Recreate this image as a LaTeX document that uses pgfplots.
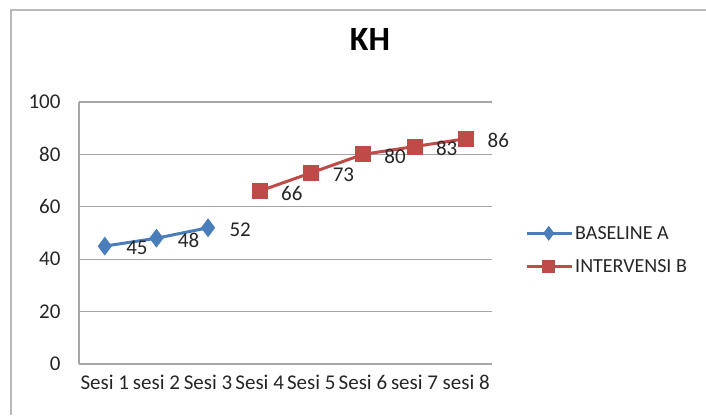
\documentclass[border=0pt]{standalone}
\usepackage{pgfplots}
\pgfplotsset{compat=1.18}
\usepackage{fontspec}
\setmainfont{Carlito}
\definecolor{serA}{HTML}{4A7EBB}
\definecolor{serB}{HTML}{BE4B48}
\definecolor{gridc}{HTML}{A6A6A6}
\definecolor{txt}{HTML}{262626}
\begin{document}
\begin{tikzpicture}[x=1pt,y=1pt]
\path[use as bounding box] (0,0) rectangle (706,415);
\draw[gray!55, line width=1.5pt] (11,0) -- (11,405) -- (706,405);
\node[font=\fontsize{34}{40}\selectfont\bfseries, text=black] at (370,376) {KH};
\begin{axis}[
  at={(79pt,51pt)}, anchor=south west,
  scale only axis, width=413pt, height=262pt,
  xmin=0.5, xmax=8.5, ymin=0, ymax=100,
  xtick={1,...,8},
  xticklabels={Sesi 1,sesi 2,Sesi 3,Sesi 4,Sesi 5,Sesi 6,sesi 7,sesi 8},
  ytick={0,20,...,100},
  /pgf/number format/assume math mode=true,
  ticklabel style={font=\fontsize{21}{24}\selectfont, text=txt},
  yticklabel style={xshift=-15pt},
  xticklabel style={yshift=-8pt},
  major tick length=0pt,
  axis x line*=bottom, axis y line*=left,
  axis line style={gridc, line width=1.2pt, -},
  ymajorgrids, grid style={gridc, line width=1.2pt},
  clip=false,
  nodes near coords,
  nodes near coords style={anchor=west, xshift=20pt, yshift=-2pt, inner sep=0pt, font=\fontsize{21}{24}\selectfont, text=txt},
  legend style={at={(1.08,0.435)}, anchor=west, draw=none, fill=none,
    font=\fontsize{20}{23}\selectfont, text=txt, row sep=15pt,
    inner sep=0pt, nodes={inner sep=2pt, anchor=west}},
  legend cell align=left,
  legend image code/.code={\draw[mark repeat=2,mark phase=2,mark size=5pt,#1] plot coordinates {(0pt,0pt) (22pt,0pt) (45pt,0pt)};},
]
\addplot[serA, line width=3pt, mark=diamond*, mark size=7pt, mark options={solid, scale=1}]
  coordinates {(1,45) (2,48) (3,52)};
\addlegendentry{BASELINE A}
\addplot[serB, line width=3pt, mark=square*, mark size=6.5pt, mark options={solid}]
  coordinates {(4,66) (5,73) (6,80) (7,83) (8,86)};
\addlegendentry{INTERVENSI B}
\end{axis}
\end{tikzpicture}
\end{document}
